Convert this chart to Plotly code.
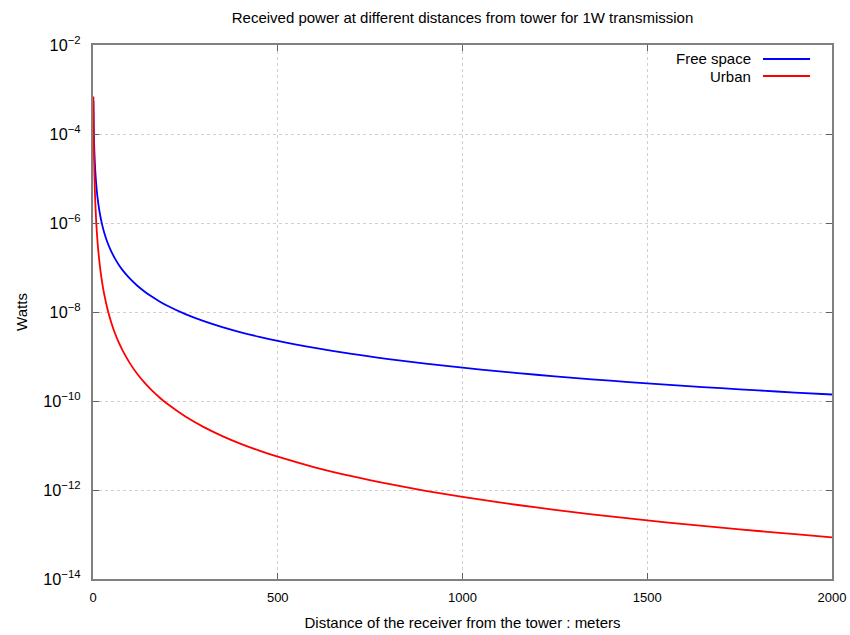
import plotly.graph_objects as go

# Distance from tower (m)
distance_m = [1, 2, 3, 4, 5, 6, 8, 10, 12, 15, 20, 25, 30, 40, 50, 60, 70, 80, 100,
              120, 140, 160, 180, 200, 250, 300, 350, 400, 450, 500, 600, 700, 800,
              900, 1000, 1100, 1200, 1300, 1400, 1500, 1600, 1700, 1800, 1900, 2000]

# Received power (W)
free_space_w = [5.6e-4, 1.4e-4, 6.2e-5, 3.5e-5, 2.24e-5, 1.56e-5, 8.75e-6, 5.6e-6, 3.9e-6,
                2.49e-6, 1.4e-6, 8.96e-7, 6.22e-7, 3.5e-7, 2.24e-7, 1.56e-7, 1.14e-7,
                8.75e-8, 5.6e-8, 3.89e-8, 2.86e-8, 2.19e-8, 1.73e-8, 1.4e-8, 8.96e-9,
                6.22e-9, 4.57e-9, 3.5e-9, 2.77e-9, 2.24e-9, 1.56e-9, 1.14e-9, 8.75e-10,
                6.91e-10, 5.6e-10, 4.63e-10, 3.89e-10, 3.31e-10, 2.86e-10, 2.49e-10,
                2.19e-10, 1.94e-10, 1.73e-10, 1.55e-10, 1.4e-10]

urban_w = [7.0e-4, 8.75e-5, 2.59e-5, 1.09e-5, 5.6e-6, 3.24e-6, 1.37e-6, 7.0e-7, 4.05e-7,
           2.07e-7, 8.75e-8, 4.48e-8, 2.59e-8, 1.09e-8, 5.6e-9, 3.24e-9, 2.04e-9,
           1.37e-9, 7.0e-10, 4.05e-10, 2.55e-10, 1.71e-10, 1.2e-10, 8.75e-11, 4.48e-11,
           2.59e-11, 1.63e-11, 1.09e-11, 7.68e-12, 5.6e-12, 3.24e-12, 2.04e-12, 1.37e-12,
           9.6e-13, 7.0e-13, 5.26e-13, 4.05e-13, 3.19e-13, 2.55e-13, 2.07e-13, 1.71e-13,
           1.42e-13, 1.2e-13, 1.02e-13, 8.6e-14]

series_names = ["Free space", "Urban"]
series_colors = ["#0000ff", "#ff0000"]
x_ticks = [0, 500, 1000, 1500, 2000]

FONT = "Liberation Sans Narrow, Liberation Sans, Arial Narrow, sans-serif"

FW, FH = 850, 635
L, R = 93, FW - 832
T, B = 45, FH - 579

fig = go.Figure()
for name, vals, col in zip(series_names, [free_space_w, urban_w], series_colors):
    fig.add_trace(go.Scatter(x=distance_m, y=vals, mode="lines", name=name,
                             line=dict(color=col, width=1.8, shape="spline", smoothing=0.8),
                             showlegend=False))

axis_common = dict(showline=True, linecolor="#808080", linewidth=1.5, mirror="ticks",
                   ticks="inside", ticklen=6, tickcolor="#606060", tickwidth=1,
                   showgrid=True, gridcolor="#d0d0d0", griddash="dot", gridwidth=1,
                   zeroline=False, automargin=False,
                   tickfont=dict(size=13, color="black", family=FONT))

fig.update_xaxes(range=[0, 2000], tickvals=x_ticks, ticklabelstandoff=6,
                 title=dict(text="Distance of the receiver from the tower : meters",
                            font=dict(size=15, family=FONT), standoff=13),
                 **axis_common)
fig.update_yaxes(type="log", range=[-14, -2], dtick=2, exponentformat="power",
                 ticklabelstandoff=8,
                 title=dict(text="Watts", font=dict(size=15, family=FONT), standoff=12),
                 **axis_common)

PW = 739
PH = 534

def px_to_paper_x(px):
    return (px - 93) / PW

def py_to_paper_y(py):
    return (579 - py) / PH

fig.add_shape(type="rect", xref="paper", yref="paper", layer="between",
              x0=px_to_paper_x(670), x1=1.0, y0=py_to_paper_y(88), y1=1.0,
              fillcolor="white", line=dict(width=0))
for i, (name, col) in enumerate(zip(series_names, series_colors)):
    py = 59 + i * 17
    fig.add_annotation(xref="paper", yref="paper", x=px_to_paper_x(753), y=py_to_paper_y(py),
                       text=name, showarrow=False, xanchor="right", yanchor="middle",
                       font=dict(size=15, family=FONT, color="black"))
    fig.add_shape(type="line", xref="paper", yref="paper",
                  x0=px_to_paper_x(763), x1=px_to_paper_x(810),
                  y0=py_to_paper_y(py), y1=py_to_paper_y(py),
                  line=dict(color=col, width=1.8))

fig.update_layout(
    width=FW, height=FH,
    margin=dict(l=L, r=R, t=T, b=B, autoexpand=False),
    paper_bgcolor="white", plot_bgcolor="white",
    title=dict(text="Received power at different distances from tower for 1W transmission",
               x=((93 + 832) / 2) / FW, xanchor="center",
               y=1 - 18 / FH, yanchor="middle",
               font=dict(size=15, family=FONT, color="black")),
    font=dict(family=FONT, color="black"),
)

fig.write_html("out.html", config={"displayModeBar": False},
               post_script="document.body.style.margin='0';document.body.style.overflow='hidden';")
